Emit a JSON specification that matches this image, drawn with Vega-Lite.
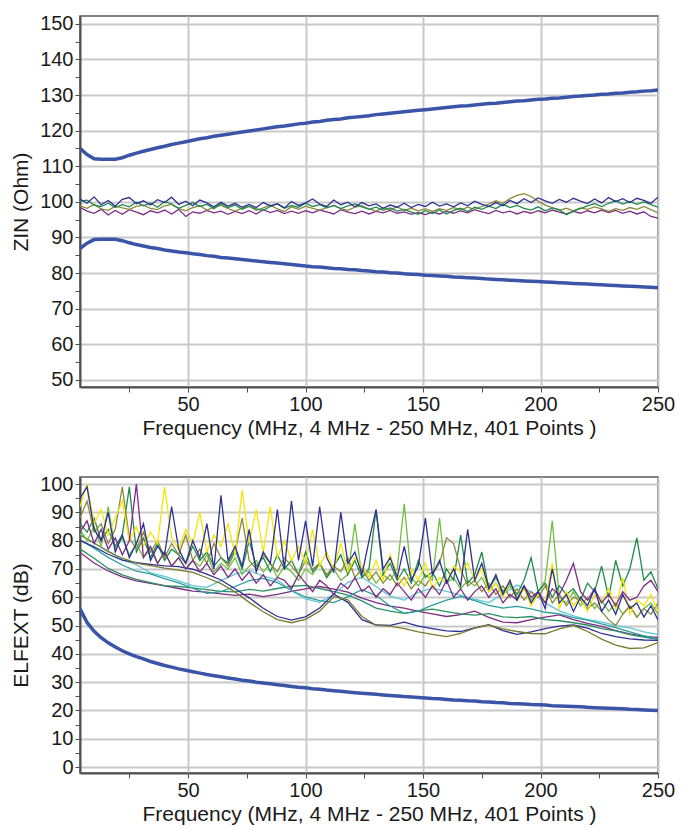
{
"$schema":"https://vega.github.io/schema/vega-lite/v6.json",
"background":"white",
"padding":{"left":9,"top":13,"right":8,"bottom":5},
"bounds":"flush",
"spacing":90,
"resolve":{"scale":{"color":"independent","x":"independent","y":"independent"}},
"config":{
 "view":{"stroke":"#5a5a5a","strokeWidth":1.5},
 "axis":{"domainColor":"#505050","domainWidth":2,"gridColor":"#c9c9c9","gridWidth":2,"tickColor":"#505050","tickSize":5,"tickWidth":1,"labelFont":"Liberation Sans","labelFontSize":20,"labelColor":"#1a1a1a","labelFlush":false,"labelOverlap":false,"titleFont":"Liberation Sans","titleFontSize":21,"titleFontWeight":"normal","titleColor":"#1a1a1a"},
 "axisX":{"labelPadding":2,"titlePadding":3},
 "axisY":{"labelPadding":2,"titlePadding":8}
},
"datasets":{
"top":[
{"f":4,"a":100.8,"g":100.2,"o":98.9,"p":98.5,"u":115,"l":86.9},
{"f":7,"a":99.6,"g":100.5,"o":98.2,"p":97.4,"u":113.3,"l":88.4},
{"f":10,"a":101.4,"g":99.1,"o":99.3,"p":96.8,"u":112.1,"l":89.4},
{"f":13,"a":99.2,"g":98.7,"o":98.0,"p":97.9,"u":112,"l":89.5},
{"f":16,"a":100.4,"g":99.6,"o":97.6,"p":96.3,"u":112,"l":89.5},
{"f":19,"a":98.8,"g":98.4,"o":98.8,"p":97.6,"u":112,"l":89.5},
{"f":22,"a":100.7,"g":99.2,"o":98.3,"p":96.5,"u":112.4,"l":89.1},
{"f":25,"a":101.2,"g":98.6,"o":97.9,"p":97.8,"u":113.1,"l":88.5},
{"f":28,"a":99.5,"g":99.9,"o":98.7,"p":97.1,"u":113.7,"l":88.0},
{"f":31,"a":100.3,"g":98.9,"o":99.1,"p":96.4,"u":114.2,"l":87.6},
{"f":34,"a":99.1,"g":99.7,"o":98.2,"p":97.5,"u":114.7,"l":87.2},
{"f":37,"a":100.6,"g":98.5,"o":97.8,"p":96.9,"u":115.2,"l":86.9},
{"f":40,"a":99.8,"g":100.1,"o":98.9,"p":97.7,"u":115.6,"l":86.5},
{"f":43,"a":101.3,"g":99.4,"o":99.3,"p":96.6,"u":116.1,"l":86.2},
{"f":46,"a":99.3,"g":98.2,"o":98.1,"p":97.9,"u":116.5,"l":85.9},
{"f":49,"a":100.2,"g":99.0,"o":97.5,"p":95.9,"u":116.9,"l":85.7},
{"f":52,"a":98.9,"g":99.8,"o":98.4,"p":97.2,"u":117.3,"l":85.4},
{"f":55,"a":100.5,"g":98.7,"o":98.9,"p":96.8,"u":117.7,"l":85.2},
{"f":58,"a":99.7,"g":99.3,"o":97.7,"p":97.6,"u":118.0,"l":84.9},
{"f":61,"a":98.6,"g":98.1,"o":98.5,"p":96.9,"u":118.4,"l":84.7},
{"f":64,"a":99.9,"g":99.5,"o":99.0,"p":97.4,"u":118.7,"l":84.4},
{"f":67,"a":98.8,"g":98.4,"o":98.1,"p":96.5,"u":119.0,"l":84.2},
{"f":70,"a":99.6,"g":99.1,"o":97.4,"p":97.3,"u":119.3,"l":84.0},
{"f":73,"a":98.5,"g":97.9,"o":98.2,"p":96.7,"u":119.6,"l":83.8},
{"f":76,"a":99.3,"g":98.8,"o":98.7,"p":97.5,"u":119.9,"l":83.6},
{"f":79,"a":98.4,"g":98.0,"o":97.6,"p":96.6,"u":120.2,"l":83.4},
{"f":82,"a":99.8,"g":97.6,"o":98.3,"p":97.8,"u":120.5,"l":83.2},
{"f":85,"a":98.9,"g":98.7,"o":99.1,"p":97.0,"u":120.8,"l":83.0},
{"f":88,"a":99.5,"g":99.4,"o":98.0,"p":97.6,"u":121.1,"l":82.8},
{"f":91,"a":98.3,"g":98.2,"o":97.3,"p":96.7,"u":121.3,"l":82.6},
{"f":94,"a":100.1,"g":99.0,"o":98.6,"p":97.4,"u":121.6,"l":82.4},
{"f":97,"a":99.0,"g":98.5,"o":97.9,"p":96.8,"u":121.9,"l":82.2},
{"f":100,"a":99.7,"g":99.6,"o":98.8,"p":97.5,"u":122.1,"l":82.0},
{"f":103,"a":100.8,"g":98.7,"o":98.2,"p":96.9,"u":122.4,"l":81.8},
{"f":106,"a":99.4,"g":99.2,"o":97.7,"p":97.7,"u":122.6,"l":81.7},
{"f":109,"a":98.7,"g":98.3,"o":98.4,"p":97.2,"u":122.9,"l":81.5},
{"f":112,"a":100.5,"g":99.0,"o":99.0,"p":96.6,"u":123.1,"l":81.3},
{"f":115,"a":99.2,"g":98.1,"o":98.1,"p":97.8,"u":123.3,"l":81.2},
{"f":118,"a":99.9,"g":98.9,"o":97.6,"p":97.1,"u":123.6,"l":81.0},
{"f":121,"a":98.6,"g":99.4,"o":98.5,"p":96.7,"u":123.8,"l":80.9},
{"f":124,"a":99.8,"g":98.6,"o":98.9,"p":97.4,"u":124.0,"l":80.7},
{"f":127,"a":98.9,"g":97.9,"o":98.0,"p":96.6,"u":124.2,"l":80.6},
{"f":130,"a":99.4,"g":98.5,"o":97.4,"p":97.3,"u":124.5,"l":80.4},
{"f":133,"a":98.2,"g":97.6,"o":98.3,"p":96.9,"u":124.7,"l":80.3},
{"f":136,"a":99.1,"g":98.3,"o":97.8,"p":97.6,"u":124.9,"l":80.1},
{"f":139,"a":98.5,"g":97.4,"o":98.6,"p":96.8,"u":125.1,"l":80.0},
{"f":142,"a":99.6,"g":97.9,"o":97.6,"p":97.2,"u":125.3,"l":79.8},
{"f":145,"a":98.4,"g":97.1,"o":98.2,"p":96.5,"u":125.5,"l":79.7},
{"f":148,"a":99.3,"g":96.5,"o":97.5,"p":97.0,"u":125.7,"l":79.6},
{"f":151,"a":98.7,"g":97.5,"o":98.0,"p":96.4,"u":125.9,"l":79.4},
{"f":154,"a":99.9,"g":96.7,"o":97.3,"p":97.1,"u":126.1,"l":79.3},
{"f":157,"a":98.8,"g":97.8,"o":98.1,"p":96.6,"u":126.3,"l":79.2},
{"f":160,"a":99.4,"g":96.6,"o":97.6,"p":97.3,"u":126.5,"l":79.1},
{"f":163,"a":98.6,"g":97.6,"o":98.4,"p":96.8,"u":126.7,"l":78.9},
{"f":166,"a":99.7,"g":98.2,"o":97.7,"p":97.5,"u":126.9,"l":78.8},
{"f":169,"a":98.9,"g":97.3,"o":98.5,"p":96.9,"u":127.0,"l":78.7},
{"f":172,"a":100.2,"g":98.5,"o":97.9,"p":97.8,"u":127.2,"l":78.6},
{"f":175,"a":99.3,"g":97.9,"o":98.7,"p":97.2,"u":127.4,"l":78.5},
{"f":178,"a":98.7,"g":98.8,"o":99.4,"p":96.7,"u":127.6,"l":78.3},
{"f":181,"a":99.8,"g":98.1,"o":100.3,"p":97.6,"u":127.7,"l":78.2},
{"f":184,"a":98.9,"g":99.3,"o":99.6,"p":96.9,"u":127.9,"l":78.1},
{"f":187,"a":100.4,"g":98.4,"o":100.9,"p":97.4,"u":128.1,"l":78.0},
{"f":190,"a":99.5,"g":99.0,"o":101.8,"p":96.6,"u":128.3,"l":77.9},
{"f":193,"a":100.9,"g":98.2,"o":102.3,"p":97.3,"u":128.4,"l":77.8},
{"f":196,"a":99.8,"g":97.7,"o":101.5,"p":96.8,"u":128.6,"l":77.7},
{"f":199,"a":101.1,"g":98.6,"o":100.2,"p":97.5,"u":128.8,"l":77.6},
{"f":202,"a":100.3,"g":97.5,"o":99.1,"p":96.9,"u":128.9,"l":77.5},
{"f":205,"a":99.6,"g":98.3,"o":98.4,"p":97.7,"u":129.1,"l":77.4},
{"f":208,"a":100.7,"g":97.8,"o":97.6,"p":97.1,"u":129.2,"l":77.3},
{"f":211,"a":99.9,"g":96.4,"o":98.2,"p":96.6,"u":129.4,"l":77.2},
{"f":214,"a":101.0,"g":97.4,"o":97.5,"p":97.3,"u":129.6,"l":77.1},
{"f":217,"a":100.2,"g":98.1,"o":98.3,"p":96.8,"u":129.7,"l":77.0},
{"f":220,"a":99.5,"g":98.9,"o":97.9,"p":97.5,"u":129.9,"l":76.9},
{"f":223,"a":100.8,"g":99.5,"o":98.6,"p":96.9,"u":130.0,"l":76.8},
{"f":226,"a":99.7,"g":98.7,"o":98.0,"p":97.7,"u":130.2,"l":76.7},
{"f":229,"a":101.2,"g":99.6,"o":97.3,"p":97.0,"u":130.3,"l":76.6},
{"f":232,"a":100.1,"g":100.3,"o":98.1,"p":97.6,"u":130.5,"l":76.5},
{"f":235,"a":100.9,"g":99.4,"o":97.6,"p":96.8,"u":130.6,"l":76.4},
{"f":238,"a":99.8,"g":100.1,"o":98.4,"p":97.4,"u":130.8,"l":76.3},
{"f":241,"a":101.0,"g":99.3,"o":97.9,"p":96.6,"u":130.9,"l":76.2},
{"f":244,"a":100.4,"g":100.0,"o":98.7,"p":97.2,"u":131.1,"l":76.1},
{"f":247,"a":99.6,"g":99.2,"o":97.8,"p":95.9,"u":131.2,"l":76.0},
{"f":250,"a":101.3,"g":98.5,"o":96.9,"p":95.4,"u":131.4,"l":75.9}
],
"bot":[
{"f":4,"N":95,"Y":92,"O":88,"G":86,"L":84,"P":83,"C":82.3,"T":80.2,"g":77.1,"p":75.8,"n":80.1,"o":82.0,"m":55.9},
{"f":7,"N":99,"Y":100,"O":94,"G":83,"L":80,"P":87,"m":51.1},
{"f":10,"N":84,"Y":86,"O":83,"G":88,"L":85,"P":79,"C":79.1,"T":77.3,"g":73.8,"p":72.1,"n":77.8,"o":79.2,"m":48.0},
{"f":13,"N":80,"Y":91,"O":86,"G":80,"L":78,"P":84,"m":45.7},
{"f":16,"N":90,"Y":82,"O":79,"G":84,"L":92,"P":77,"C":76.4,"T":74.1,"g":70.2,"p":69.3,"n":75.2,"o":76.1,"m":43.9},
{"f":19,"N":76,"Y":88,"O":84,"G":78,"L":77,"P":81,"m":42.4},
{"f":22,"N":82,"Y":94,"O":99,"G":82,"L":81,"P":75,"C":73.2,"T":71.4,"g":67.9,"p":67.2,"n":73.1,"o":73.8,"m":41.1},
{"f":25,"N":74,"Y":80,"O":81,"G":99,"L":75,"P":80,"m":40.0},
{"f":28,"N":79,"Y":85,"O":77,"G":76,"L":79,"P":100,"C":71.5,"T":69.2,"g":66.3,"p":65.8,"n":72.2,"o":72.1,"m":39.0},
{"f":31,"N":86,"Y":78,"O":83,"G":81,"L":74,"P":74,"m":38.2},
{"f":34,"N":73,"Y":83,"O":76,"G":74,"L":77,"P":78,"C":68.6,"T":68.3,"g":65.2,"p":64.9,"n":71.6,"o":71.2,"m":37.3},
{"f":37,"N":78,"Y":79,"O":80,"G":79,"L":72,"P":72,"m":36.6},
{"f":40,"N":75,"Y":99,"O":74,"G":73,"L":76,"P":76,"C":67.4,"T":66.6,"g":64.1,"p":64.0,"n":71.1,"o":70.3,"m":35.9},
{"f":43,"N":92,"Y":81,"O":79,"G":77,"L":71,"P":71,"m":35.3},
{"f":46,"N":77,"Y":77,"O":75,"G":75,"L":74,"P":74,"C":65.8,"T":65.1,"g":63.8,"p":63.1,"n":70.8,"o":69.6,"m":34.7},
{"f":49,"N":72,"Y":84,"O":82,"G":72,"L":70,"P":70,"m":34.2},
{"f":52,"N":80,"Y":79,"O":73,"G":78,"L":73,"P":73,"C":64.1,"T":63.2,"g":63.3,"p":62.2,"n":69.9,"o":68.8,"m":33.7},
{"f":55,"N":74,"Y":90,"O":77,"G":73,"L":71,"P":69,"m":33.2},
{"f":58,"N":86,"Y":76,"O":72,"G":76,"L":75,"P":72,"C":63.5,"T":61.4,"g":62.7,"p":61.8,"n":68.2,"o":66.9,"m":32.7},
{"f":61,"N":70,"Y":82,"O":79,"G":71,"L":69,"P":68,"m":32.3},
{"f":64,"N":96,"Y":78,"O":74,"G":74,"L":72,"P":71,"C":65.9,"T":62.0,"g":62.1,"p":61.2,"n":66.1,"o":64.8,"m":31.9},
{"f":67,"N":73,"Y":86,"O":71,"G":72,"L":70,"P":67,"m":31.5},
{"f":70,"N":78,"Y":75,"O":76,"G":77,"L":74,"P":70,"C":68.2,"T":63.8,"g":61.9,"p":60.7,"n":63.0,"o":61.9,"m":31.1},
{"f":73,"N":71,"Y":98,"O":88,"G":70,"L":68,"P":66,"m":30.7},
{"f":76,"N":84,"Y":79,"O":73,"G":80,"L":71,"P":69,"C":69.4,"T":65.9,"g":62.8,"p":61.1,"n":59.8,"o":58.2,"m":30.4},
{"f":79,"N":69,"Y":91,"O":70,"G":71,"L":73,"P":65,"m":30.0},
{"f":82,"N":76,"Y":76,"O":75,"G":74,"L":69,"P":68,"C":67.6,"T":66.7,"g":62.2,"p":60.2,"n":56.1,"o":54.9,"m":29.7},
{"f":85,"N":72,"Y":92,"O":72,"G":69,"L":72,"P":64,"m":29.4},
{"f":88,"N":91,"Y":74,"O":69,"G":75,"L":67,"P":67,"C":66.1,"T":65.2,"g":63.1,"p":61.0,"n":53.2,"o":52.1,"m":29.1},
{"f":91,"N":70,"Y":80,"O":74,"G":70,"L":71,"P":66,"m":28.8},
{"f":94,"N":94,"Y":73,"O":71,"G":73,"L":69,"P":63,"C":62.3,"T":62.4,"g":63.9,"p":62.1,"n":51.9,"o":51.0,"m":28.5},
{"f":97,"N":73,"Y":78,"O":68,"G":68,"L":66,"P":68,"m":28.2},
{"f":100,"N":87,"Y":72,"O":73,"G":76,"L":70,"P":65,"C":59.4,"T":60.1,"g":64.2,"p":63.0,"n":53.1,"o":52.2,"m":28.0},
{"f":103,"N":71,"Y":84,"O":70,"G":69,"L":68,"P":62,"m":27.7},
{"f":106,"N":92,"Y":71,"O":72,"G":72,"L":72,"P":66,"C":58.2,"T":58.8,"g":63.1,"p":63.8,"n":56.2,"o":55.1,"m":27.5},
{"f":109,"N":74,"Y":76,"O":68,"G":67,"L":67,"P":64,"m":27.2},
{"f":112,"N":69,"Y":70,"O":71,"G":71,"L":70,"P":61,"C":61.0,"T":58.1,"g":62.0,"p":62.9,"n":61.1,"o":60.2,"m":27.0},
{"f":115,"N":90,"Y":79,"O":69,"G":75,"L":66,"P":65,"m":26.8},
{"f":118,"N":72,"Y":69,"O":74,"G":68,"L":68,"P":63,"C":65.3,"T":60.2,"g":60.8,"p":61.8,"n":58.2,"o":59.1,"m":26.5},
{"f":121,"N":76,"Y":74,"O":67,"G":73,"L":86,"P":67,"m":26.3},
{"f":124,"N":68,"Y":71,"O":70,"G":67,"L":67,"P":62,"C":67.1,"T":62.7,"g":58.7,"p":59.7,"n":52.1,"o":53.2,"m":26.1},
{"f":127,"N":80,"Y":67,"O":66,"G":70,"L":69,"P":64,"m":25.9},
{"f":130,"N":91,"Y":73,"O":69,"G":91,"L":65,"P":60,"C":63.8,"T":60.6,"g":56.2,"p":58.1,"n":50.2,"o":50.1,"m":25.7},
{"f":133,"N":70,"Y":66,"O":65,"G":68,"L":68,"P":63,"m":25.5},
{"f":136,"N":74,"Y":75,"O":68,"G":72,"L":66,"P":61,"C":60.4,"T":56.9,"g":55.1,"p":56.9,"n":50.1,"o":49.8,"m":25.3},
{"f":139,"N":67,"Y":68,"O":64,"G":66,"L":70,"P":65,"m":25.1},
{"f":142,"N":78,"Y":64,"O":67,"G":70,"L":93,"P":62,"C":59.0,"T":54.3,"g":54.3,"p":56.2,"n":51.2,"o":48.9,"m":24.9},
{"f":145,"N":66,"Y":70,"O":63,"G":65,"L":67,"P":59,"m":24.8},
{"f":148,"N":71,"Y":66,"O":66,"G":73,"L":64,"P":63,"C":61.7,"T":55.1,"g":55.2,"p":55.0,"n":49.8,"o":47.8,"m":24.6},
{"f":151,"N":88,"Y":72,"O":64,"G":67,"L":68,"P":60,"m":24.4},
{"f":154,"N":68,"Y":63,"O":68,"G":69,"L":66,"P":64,"C":63.2,"T":57.2,"g":55.8,"p":54.1,"n":48.9,"o":46.9,"m":24.2},
{"f":157,"N":73,"Y":67,"O":72,"G":64,"L":88,"P":61,"m":24.1},
{"f":160,"N":65,"Y":65,"O":81,"G":70,"L":65,"P":66,"C":62.1,"T":59.0,"g":54.9,"p":53.2,"n":48.1,"o":46.1,"m":23.9},
{"f":163,"N":70,"Y":71,"O":79,"G":66,"L":67,"P":60,"m":23.7},
{"f":166,"N":64,"Y":69,"O":70,"G":82,"L":63,"P":63,"C":60.8,"T":60.3,"g":54.1,"p":53.9,"n":47.9,"o":47.2,"m":23.6},
{"f":169,"N":84,"Y":72,"O":64,"G":65,"L":66,"P":59,"m":23.4},
{"f":172,"N":66,"Y":66,"O":66,"G":68,"L":64,"P":62,"C":59.3,"T":58.8,"g":53.7,"p":55.1,"n":49.2,"o":49.1,"m":23.3},
{"f":175,"N":72,"Y":70,"O":62,"G":76,"L":67,"P":64,"m":23.1},
{"f":178,"N":63,"Y":62,"O":65,"G":63,"L":62,"P":60,"C":58.1,"T":57.1,"g":54.2,"p":52.9,"n":50.3,"o":50.2,"m":23.0},
{"f":181,"N":68,"Y":65,"O":61,"G":67,"L":65,"P":63,"m":22.8},
{"f":184,"N":61,"Y":60,"O":64,"G":62,"L":61,"P":58,"C":61.2,"T":56.2,"g":53.1,"p":51.2,"n":48.2,"o":48.8,"m":22.7},
{"f":187,"N":66,"Y":66,"O":60,"G":65,"L":64,"P":61,"m":22.5},
{"f":190,"N":59,"Y":59,"O":63,"G":61,"L":60,"P":59,"C":64.3,"T":56.8,"g":52.8,"p":51.0,"n":46.9,"o":47.9,"m":22.4},
{"f":193,"N":64,"Y":63,"O":59,"G":66,"L":63,"P":64,"m":22.3},
{"f":196,"N":58,"Y":57,"O":62,"G":74,"L":59,"P":60,"C":61.9,"T":55.9,"g":53.2,"p":52.1,"n":47.8,"o":47.2,"m":22.1},
{"f":199,"N":62,"Y":61,"O":60,"G":62,"L":62,"P":62,"m":22.0},
{"f":202,"N":56,"Y":58,"O":64,"G":65,"L":66,"P":58,"C":58.0,"T":54.7,"g":52.1,"p":53.0,"n":48.9,"o":47.1,"m":21.9},
{"f":205,"N":70,"Y":72,"O":58,"G":60,"L":87,"P":63,"m":21.7},
{"f":208,"N":58,"Y":56,"O":61,"G":64,"L":60,"P":61,"C":55.2,"T":54.1,"g":51.7,"p":53.8,"n":49.8,"o":48.8,"m":21.6},
{"f":211,"N":61,"Y":62,"O":57,"G":61,"L":58,"P":66,"m":21.5},
{"f":214,"N":55,"Y":57,"O":60,"G":63,"L":62,"P":72,"C":53.4,"T":52.8,"g":51.0,"p":52.1,"n":50.2,"o":50.1,"m":21.4},
{"f":217,"N":60,"Y":60,"O":59,"G":59,"L":57,"P":62,"m":21.3},
{"f":220,"N":57,"Y":55,"O":56,"G":65,"L":60,"P":59,"C":52.1,"T":51.9,"g":50.2,"p":50.8,"n":49.1,"o":47.9,"m":21.1},
{"f":223,"N":63,"Y":61,"O":58,"G":62,"L":56,"P":63,"m":21.0},
{"f":226,"N":55,"Y":58,"O":55,"G":71,"L":59,"P":58,"C":51.3,"T":50.6,"g":48.9,"p":49.7,"n":47.2,"o":45.2,"m":20.9},
{"f":229,"N":59,"Y":63,"O":52,"G":60,"L":55,"P":61,"m":20.8},
{"f":232,"N":54,"Y":56,"O":50,"G":73,"L":58,"P":57,"C":50.0,"T":49.3,"g":48.1,"p":48.2,"n":46.1,"o":43.1,"m":20.7},
{"f":235,"N":61,"Y":67,"O":54,"G":64,"L":54,"P":62,"m":20.6},
{"f":238,"N":56,"Y":54,"O":57,"G":70,"L":57,"P":59,"C":49.2,"T":47.8,"g":46.8,"p":47.1,"n":45.3,"o":41.9,"m":20.4},
{"f":241,"N":58,"Y":59,"O":53,"G":81,"L":53,"P":60,"m":20.3},
{"f":244,"N":53,"Y":57,"O":56,"G":66,"L":56,"P":64,"C":47.8,"T":46.4,"g":45.9,"p":46.2,"n":44.9,"o":42.1,"m":20.2},
{"f":247,"N":57,"Y":61,"O":54,"G":69,"L":58,"P":66,"m":20.1},
{"f":250,"N":52,"Y":55,"O":58,"G":63,"L":54,"P":62,"C":46.9,"T":45.2,"g":45.1,"p":45.8,"n":44.8,"o":44.0,"m":20.0}
]
},
"vconcat":[
{
 "width":578,"height":371,
 "data":{"name":"top"},
 "encoding":{
  "x":{"field":"f","type":"quantitative","scale":{"domain":[4,250],"nice":false,"zero":false},
   "axis":{"title":"Frequency (MHz, 4 MHz - 250 MHz, 401 Points )","values":[25,50,75,100,125,150,175,200,225,250],"labelExpr":"datum.value % 50 === 0 ? datum.label : ''","gridOpacity":{"condition":{"test":"datum.value % 50 === 0","value":1},"value":0}}},
  "y":{"field":"v","type":"quantitative","scale":{"domain":[48,152.2],"nice":false,"zero":false},
   "axis":{"title":"ZIN (Ohm)","values":[50,55,60,65,70,75,80,85,90,95,100,105,110,115,120,125,130,135,140,145,150],"labelExpr":"datum.value % 10 === 0 ? datum.label : ''","gridOpacity":{"condition":{"test":"datum.value % 10 === 0","value":1},"value":0}}}
 },
 "layer":[
  {"transform":[{"fold":["p","o","g","a"],"as":["s","v"]}],
   "mark":{"type":"line","strokeWidth":1.3,"clip":true},
   "encoding":{"color":{"field":"s","type":"nominal","scale":{"domain":["a","g","o","p"],"range":["#2E3191","#1E8B4C","#8C8B3D","#7E2C87"]},"legend":null}}},
  {"transform":[{"fold":["u","l"],"as":["s","v"]}],
   "mark":{"type":"line","strokeWidth":3.5,"color":"#3A55A8","clip":true},
   "encoding":{"detail":{"field":"s","type":"nominal"}}}
 ]
},
{
 "width":578,"height":296,
 "data":{"name":"bot"},
 "encoding":{
  "x":{"field":"f","type":"quantitative","scale":{"domain":[4,250],"nice":false,"zero":false},
   "axis":{"title":"Frequency (MHz, 4 MHz - 250 MHz, 401 Points )","values":[25,50,75,100,125,150,175,200,225,250],"labelExpr":"datum.value % 50 === 0 ? datum.label : ''","gridOpacity":{"condition":{"test":"datum.value % 50 === 0","value":1},"value":0}}},
  "y":{"field":"v","type":"quantitative","scale":{"domain":[-2.1,102.5],"nice":false,"zero":false},
   "axis":{"title":"ELFEXT (dB)","values":[0,5,10,15,20,25,30,35,40,45,50,55,60,65,70,75,80,85,90,95,100],"labelExpr":"datum.value % 10 === 0 ? datum.label : ''","gridOpacity":{"condition":{"test":"datum.value % 10 === 0","value":1},"value":0}}}
 },
 "layer":[
  {"transform":[{"fold":["p","g","C","T","n","o","L","G","O","Y","P","N"],"as":["s","v"]},{"filter":"isValid(datum.v)"}],
   "mark":{"type":"line","strokeWidth":1.3,"clip":true},
   "encoding":{"color":{"field":"s","type":"nominal","scale":{"domain":["N","Y","O","G","L","P","C","T","g","p","n","o"],"range":["#2E3191","#F5E50A","#8C8B3D","#1E8B4C","#72BF44","#7E2C87","#60C6D6","#2A9D9C","#2A9060","#7E2C87","#2E3191","#7B7A30"]},"legend":null}}},
  {"transform":[{"fold":["m"],"as":["s","v"]}],
   "mark":{"type":"line","strokeWidth":3.5,"color":"#3A55A8","clip":true},
   "encoding":{"detail":{"field":"s","type":"nominal"}}}
 ]
}
]
}
